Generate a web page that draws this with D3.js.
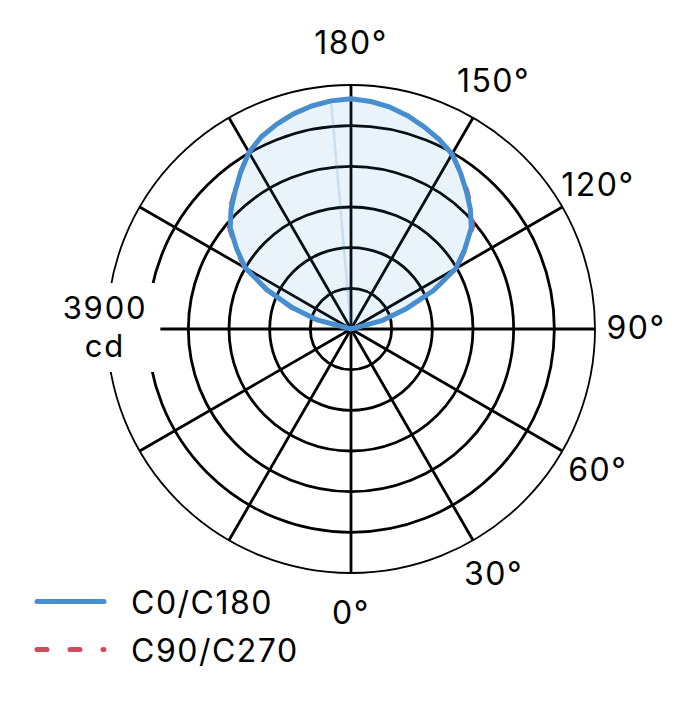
<!DOCTYPE html>
<html><head><meta charset="utf-8">
<script src="https://cdn.jsdelivr.net/npm/d3@7"></script>
<style>
  body { margin: 0; background: #fff; }
  text { font-family: Inter, "Liberation Sans", Arial, sans-serif; }
</style>
</head><body>
<svg id="chart" width="680" height="720"></svg>
<script>
// ---------------- data ----------------
// vertical angle gamma (deg): 0 = straight down, 180 = straight up
const gammas   = [90, 95, 100, 105, 110, 115, 120, 125, 130, 135, 140, 145, 150, 155, 160, 165, 170, 175, 180];
// luminous intensity (cd) per plane
const c0Values   = [0, 0, 0, 500,  930, 1455, 1935, 2220, 2510, 2700, 2870, 3050, 3230, 3340, 3435, 3525, 3600, 3650, 3680];
const c180Values = [0, 0, 0, 560, 1000, 1480, 1950, 2230, 2520, 2710, 2880, 3070, 3260, 3390, 3480, 3560, 3620, 3660, 3680];
const c90Values  = [0, 0, 0, 510,  950, 1470, 1950, 2250, 2545, 2730, 2890, 3060, 3235, 3345, 3440, 3530, 3600, 3650, 3680];
const c270Values = [0, 0, 0, 570, 1040, 1500, 1970, 2260, 2550, 2735, 2895, 3075, 3262, 3390, 3480, 3560, 3620, 3660, 3680];

const ringValues  = [650, 1300, 1950, 2600, 3250, 3900];
const spokeAngles = [0, 30, 60, 90, 120, 150, 180, 210, 240, 270, 300, 330];
const labelAngles = [0, 30, 60, 90, 120, 150, 180];
const maxValue    = 3900;
const scaleLabel  = ["3900", "cd"];
const legendItems = ["C0/C180", "C90/C270"];

// ---------------- layout ----------------
const cx = 351, cy = 329, R = 244;
const BLUE = "#468ecf", RED = "#d04a5e", INK = "#000";
const FONT = 32;

const svg = d3.select("#chart");
const rScale = d3.scaleLinear().domain([0, maxValue]).range([0, R]);
const rad = d => d * Math.PI / 180;
// gamma -> screen position (right half-plane)
const px = (g, r) => cx + r * Math.sin(rad(g));
const py = (g, r) => cy + r * Math.cos(rad(g));

const g = svg.append("g");

// rings
g.selectAll("circle.ring").data(ringValues).join("circle")
  .attr("class", "ring")
  .attr("cx", cx).attr("cy", cy)
  .attr("r", d => rScale(d))
  .attr("fill", "none")
  .attr("stroke", INK)
  .attr("stroke-width", (d, i) => i === ringValues.length - 1 ? 1.8 : 2.8);

// spokes
g.selectAll("line.spoke").data(spokeAngles).join("line")
  .attr("class", "spoke")
  .attr("x1", cx).attr("y1", cy)
  .attr("x2", d => px(d, rScale(maxValue)))
  .attr("y2", d => py(d, rScale(maxValue)))
  .attr("stroke", INK)
  .attr("stroke-width", 2.8);

// scale label (two separate lines) with white backing box
const sl = svg.append("g");
const slTexts = sl.selectAll("text").data(scaleLabel).join("text")
  .attr("x", cx - rScale(maxValue) - 2)
  .attr("y", (d, i) => cy - 10 + i * 38)
  .attr("text-anchor", "middle")
  .attr("font-size", 31)
  .attr("letter-spacing", 1.8)
  .attr("fill", INK)
  .text(d => d);
const bb = sl.node().getBBox();
sl.insert("rect", "text")
  .attr("x", bb.x - 13).attr("y", bb.y - 6)
  .attr("width", bb.width + 26).attr("height", bb.height + 14)
  .attr("fill", "#fff");

// radial line builders (d3 angle: 0 = up, clockwise)
const radial = d3.lineRadial()
  .angle(d => d.a)
  .radius(d => rScale(d.v))
  .curve(d3.curveLinearClosed);

function planePoints(rightVals, leftVals) {
  const right = gammas.map((gm, i) => ({ a: Math.PI - rad(gm), v: rightVals[i] }));
  const left = gammas.map((gm, i) => ({ a: Math.PI + rad(gm), v: leftVals[i] })).reverse();
  return right.concat(left);
}

const plot = svg.append("g").attr("transform", `translate(${cx},${cy})`);
const ptsC0 = planePoints(c0Values, c180Values);
const ptsC90 = planePoints(c90Values, c270Values);

// fill C0/C180
plot.append("path")
  .attr("d", radial(ptsC0))
  .attr("fill", BLUE)
  .attr("fill-opacity", 0.11)
  .attr("stroke", "none");

// faint seam
const seamIdx = gammas.indexOf(175);
plot.append("line")
  .attr("x1", 0).attr("y1", 0)
  .attr("x2", -rScale(c180Values[seamIdx]) * Math.sin(rad(175)))
  .attr("y2", rScale(c180Values[seamIdx]) * Math.cos(rad(175)))
  .attr("stroke", BLUE)
  .attr("stroke-opacity", 0.2)
  .attr("stroke-width", 2.5);

// C90/C270 dashed
plot.append("path")
  .attr("d", radial(ptsC90))
  .attr("fill", "none")
  .attr("stroke", RED)
  .attr("stroke-width", 4)
  .attr("stroke-dasharray", "10,23")
  .attr("stroke-linecap", "round")
  .attr("stroke-linejoin", "round");

// C0/C180 solid
plot.append("path")
  .attr("d", radial(ptsC0))
  .attr("fill", "none")
  .attr("stroke", BLUE)
  .attr("stroke-width", 5)
  .attr("stroke-linejoin", "round");

// angle labels
const labelR = 285;
svg.append("g").selectAll("text").data(labelAngles).join("text")
  .attr("x", d => px(d, labelR))
  .attr("y", d => py(d, labelR) + 9.5)
  .attr("text-anchor", "middle")
  .attr("font-size", FONT)
  .attr("letter-spacing", 1.5)
  .attr("fill", INK)
  .text(d => d + "°");

// legend
const legend = svg.append("g");
const legendStyles = [
  { color: BLUE, dash: null },
  { color: RED, dash: "10,23" }
];
legendItems.forEach((name, i) => {
  const y = 614 + i * 48;
  legend.append("line")
    .attr("x1", 37).attr("x2", 104)
    .attr("y1", y - 12.5).attr("y2", y - 12.5)
    .attr("stroke", legendStyles[i].color)
    .attr("stroke-width", 5)
    .attr("stroke-linecap", "round")
    .attr("stroke-dasharray", legendStyles[i].dash);
  legend.append("text")
    .attr("x", 131)
    .attr("y", y)
    .attr("font-size", FONT)
    .attr("letter-spacing", 1.5)
    .attr("fill", INK)
    .text(name);
});
</script></body></html>
